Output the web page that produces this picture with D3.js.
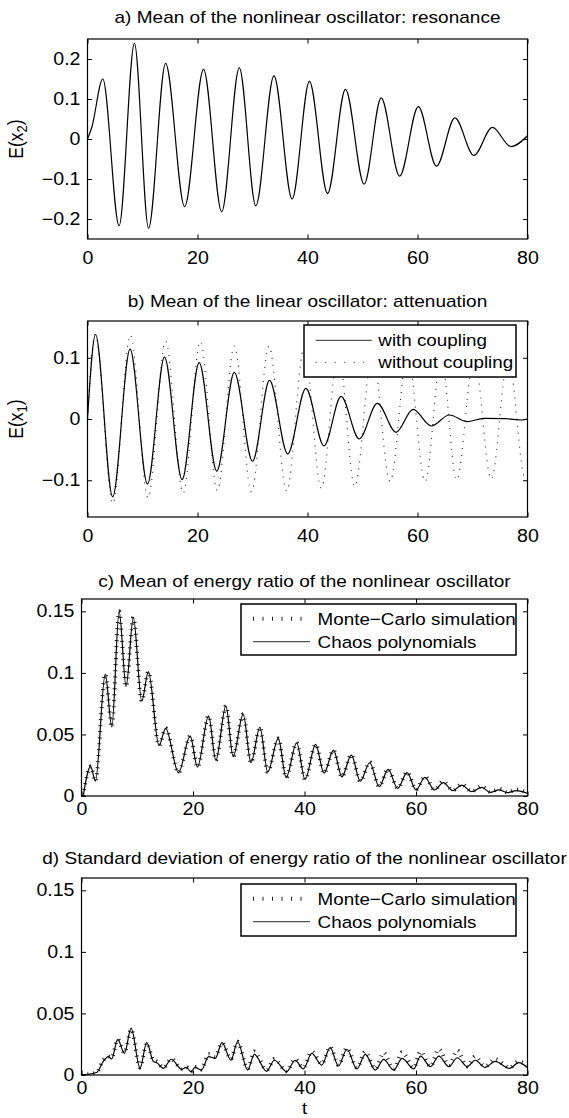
<!DOCTYPE html>
<html>
<head>
<meta charset="utf-8">
<script src="https://cdn.jsdelivr.net/npm/d3@7"></script>
<style>
  body { margin: 0; background: #fff; }
  svg { display: block; }
  text { font-family: "Liberation Sans", Arial, Helvetica, sans-serif; fill: #000; }
</style>
</head>
<body>
<div id="chart"></div>
<script>
// ---- data (t = time, values at the turning points) ----
var xTicks = [0, 20, 40, 60, 80];

// a) mean of x2, nonlinear oscillator
var tX2 = [0, 0.8, 2.78, 5.75, 8.53, 11.1, 14.2, 17.66, 21.1, 24.4, 27.6, 30.6, 33.9, 37.2, 40.35, 43.65, 46.9, 50.3, 53.4, 56.75, 60.15, 63.45, 66.8, 70.25, 73.6, 77.0, 80];
var meanX2 = [0, 0.03, 0.15, -0.217, 0.239, -0.223, 0.189, -0.169, 0.174, -0.182, 0.178, -0.167, 0.158, -0.15, 0.144, -0.136, 0.124, -0.113, 0.103, -0.093, 0.081, -0.068, 0.053, -0.041, 0.029, -0.019, 0.008];
var ticksA = [-0.2, -0.1, 0, 0.1, 0.2];

// b) mean of x1, linear oscillator, with / without coupling
var tX1c = [0, 1.46, 4.57, 7.74, 10.9, 14.0, 17.2, 20.3, 23.5, 26.7, 30.0, 33.1, 36.4, 39.7, 43.0, 46.1, 49.4, 52.7, 56.1, 59.2, 62.5, 65.8, 69.0, 72.1, 76, 79, 80];
var meanX1c = [0, 0.138, -0.127, 0.114, -0.106, 0.101, -0.099, 0.092, -0.085, 0.076, -0.069, 0.063, -0.057, 0.05, -0.044, 0.037, -0.0325, 0.0255, -0.0217, 0.0157, -0.0114, 0.0065, -0.0043, 0.001, 0.0005, -0.0016, 0];
var tX1u = [0, 1.4, 4.6, 7.8, 11.0, 14.2, 17.4, 20.5, 23.6, 26.7, 29.8, 33.0, 36.2, 39.4, 42.5, 45.6, 48.6, 51.8, 55.0, 58.2, 61.4, 64.3, 67.1, 70.3, 73.4, 76.5, 79.6, 80];
var meanX1u = [0, 0.138, -0.138, 0.137, -0.129, 0.127, -0.121, 0.126, -0.117, 0.119, -0.119, 0.119, -0.118, 0.116, -0.113, 0.11, -0.11, 0.107, -0.102, 0.104, -0.102, 0.101, -0.099, 0.1, -0.098, 0.099, -0.097, -0.095];
var ticksB = [-0.1, 0, 0.1];

// c) mean of energy ratio
var tEc = [0.3, 1.64, 2.5, 4.26, 5.44, 6.75, 8.0, 9.3, 10.8, 12.0, 13.9, 15.1, 17.4, 19.5, 20.8, 22.8, 24.1, 25.9, 27.2, 29.0, 30.4, 32.0, 33.4, 35.3, 36.7, 38.6, 40.1, 42.0, 43.5, 45.2, 46.7, 48.4, 50.0, 51.7, 53.4, 55.0, 56.7, 58.4, 60.0, 61.6, 63.3, 64.9, 66.6, 68.2, 70.0, 71.8, 73.3, 74.9, 76.4, 78.0, 80];
var meanEPC = [0, 0.024, 0.012, 0.099, 0.056, 0.150, 0.089, 0.145, 0.077, 0.101, 0.041, 0.055, 0.019, 0.0486, 0.0235, 0.065, 0.029, 0.0732, 0.032, 0.0665, 0.027, 0.0557, 0.0195, 0.0468, 0.015, 0.0432, 0.0135, 0.0419, 0.0185, 0.0373, 0.0155, 0.0332, 0.012, 0.027, 0.0076, 0.0216, 0.0062, 0.019, 0.0049, 0.0151, 0.0049, 0.0108, 0.0043, 0.0089, 0.0035, 0.007, 0.003, 0.005, 0.0027, 0.0043, 0.002];
var meanEMC = [0, 0.024, 0.012, 0.099, 0.056, 0.150, 0.089, 0.145, 0.077, 0.101, 0.041, 0.055, 0.019, 0.0486, 0.0235, 0.065, 0.029, 0.0732, 0.032, 0.0665, 0.027, 0.0557, 0.0195, 0.0468, 0.015, 0.0432, 0.0135, 0.0419, 0.0185, 0.0373, 0.0155, 0.0335, 0.012, 0.0275, 0.0078, 0.022, 0.0064, 0.0195, 0.0052, 0.016, 0.0052, 0.012, 0.0046, 0.0095, 0.0038, 0.008, 0.0034, 0.0058, 0.003, 0.0052, 0.0028];
var ticksC = [0, 0.05, 0.1, 0.15];

// d) standard deviation of energy ratio
var tSd = [0, 2.7, 3.9, 4.8, 5.4, 6.5, 7.7, 8.9, 10.5, 11.7, 12.9, 13.5, 14.7, 16.1, 18.0, 18.8, 19.6, 20.4, 21.5, 22.8, 24.0, 25.2, 26.8, 28.0, 29.8, 31.0, 33.2, 34.6, 36.8, 38.3, 39.8, 41.3, 43.1, 44.6, 46.1, 47.6, 49.4, 50.9, 52.7, 54.2, 56.0, 57.5, 59.6, 60.8, 62.6, 64.1, 65.9, 67.4, 69.2, 70.6, 72.4, 74.2, 76.8, 78.4, 80];
var stdEPC = [0, 0.002, 0.011, 0.015, 0.013, 0.029, 0.0176, 0.038, 0.0054, 0.0263, 0.011, 0.01, 0.0054, 0.0128, 0.0046, 0.0062, 0.0027, 0.0062, 0.004, 0.0149, 0.0135, 0.0263, 0.012, 0.027, 0.004, 0.0168, 0.003, 0.012, 0.0027, 0.012, 0.0049, 0.0176, 0.0081, 0.0222, 0.0073, 0.0209, 0.0049, 0.0168, 0.004, 0.0127, 0.004, 0.0135, 0.0049, 0.0154, 0.0068, 0.0154, 0.0068, 0.014, 0.0068, 0.012, 0.0062, 0.011, 0.0054, 0.01, 0.006];
var stdEMC = [0, 0.002, 0.012, 0.015, 0.014, 0.029, 0.018, 0.037, 0.006, 0.026, 0.012, 0.011, 0.006, 0.013, 0.005, 0.0065, 0.003, 0.0065, 0.0045, 0.017, 0.015, 0.026, 0.013, 0.027, 0.005, 0.019, 0.004, 0.013, 0.003, 0.013, 0.006, 0.019, 0.009, 0.023, 0.008, 0.022, 0.006, 0.019, 0.005, 0.018, 0.005, 0.0185, 0.006, 0.019, 0.007, 0.021, 0.008, 0.02, 0.007, 0.015, 0.007, 0.013, 0.006, 0.011, 0.007];
var ticksD = [0, 0.05, 0.1, 0.15];

// ---- drawing ----
var W = 569, H = 1118, FS = 16.8, TFS = 17.5, SX = 1.12, RIGHT = 527.5;

var svg = d3.select("#chart").append("svg")
    .attr("width", W)
    .attr("height", H);

function fmt(d) {
  if (d === 0) return "0";
  return (d < 0 ? "\u2212" : "") + String(Math.abs(d));
}

function label(g, x, y, s, anchor) {
  return g.append("text")
    .attr("transform", "translate(" + x + "," + y + ") scale(" + SX + ",1)")
    .attr("text-anchor", anchor || "middle")
    .style("font-size", FS + "px")
    .text(s);
}

function pts(ts, vs) {
  return ts.map(function(t, i) { return [t, vs[i]]; });
}

function panel(o) {
  var x = d3.scaleLinear().domain([0, 80]).range([o.left, RIGHT]);
  var y = d3.scaleLinear().domain(o.yDomain).range([o.bottom, o.top]);
  var g = svg.append("g");

  var line = d3.line()
      .x(function(d) { return x(d[0]); })
      .y(function(d) { return y(d[1]); })
      .curve(d3.curveMonotoneX);

  var clipId = "clip" + o.id;
  g.append("clipPath").attr("id", clipId)
    .append("rect")
      .attr("x", o.left).attr("y", o.top)
      .attr("width", RIGHT - o.left).attr("height", o.bottom - o.top);

  var plot = g.append("g").attr("clip-path", "url(#" + clipId + ")");
  o.series.forEach(function(s) {
    plot.append("path")
      .datum(pts(s.t, s.v))
      .attr("fill", "none")
      .attr("stroke", s.color)
      .attr("stroke-width", s.width)
      .attr("stroke-dasharray", s.dash || null)
      .attr("d", line);
  });

  // axes, ticks pointing inward on all four sides
  var bottom = g.append("g")
      .attr("transform", "translate(0," + o.bottom + ")")
      .call(d3.axisBottom(x).tickValues(xTicks).tickSizeInner(-4.5).tickSizeOuter(0).tickPadding(o.xPad).tickFormat(fmt));
  var left = g.append("g")
      .attr("transform", "translate(" + o.left + ",0)")
      .call(d3.axisLeft(y).tickValues(o.yTicks).tickSizeInner(-4.5).tickSizeOuter(0).tickPadding(7).tickFormat(fmt));
  g.append("g")
      .attr("transform", "translate(0," + o.top + ")")
      .call(d3.axisTop(x).tickValues(xTicks).tickSizeInner(-4.5).tickSizeOuter(0).tickFormat(""));
  g.append("g")
      .attr("transform", "translate(" + RIGHT + ",0)")
      .call(d3.axisRight(y).tickValues(o.yTicks).tickSizeInner(-4.5).tickSizeOuter(0).tickFormat(""));

  g.selectAll(".domain").remove();
  g.selectAll(".tick line").attr("stroke", "#000").attr("stroke-width", 1);
  bottom.selectAll("text")
    .attr("font-family", null).attr("font-size", null)
    .style("font-size", TFS + "px")
    .attr("transform", "scale(" + SX + ",1)");
  left.selectAll("text")
    .attr("font-family", null).attr("font-size", null)
    .style("font-size", TFS + "px")
    .attr("x", -7 / SX)
    .attr("transform", "scale(" + SX + ",1)");

  g.append("rect")
    .attr("x", o.left).attr("y", o.top)
    .attr("width", RIGHT - o.left).attr("height", o.bottom - o.top)
    .attr("fill", "none").attr("stroke", "#000").attr("stroke-width", 1.2);

  label(g, (o.left + RIGHT) / 2, o.titleY, o.title).style("font-size", "17px");

  if (o.sub) {
    var yl = g.append("text")
      .attr("transform", "translate(23," + (o.top + o.bottom) / 2 + ") rotate(-90) scale(1," + SX + ")")
      .attr("text-anchor", "middle")
      .style("font-size", TFS + "px");
    yl.append("tspan").text("E(x");
    yl.append("tspan").attr("dy", "0.3em").style("font-size", "0.75em").text(o.sub);
    yl.append("tspan").attr("dy", "-0.3em").text(")");
  }

  if (o.legend) {
    var L = o.legend;
    g.append("rect")
      .attr("x", L.x).attr("y", L.y).attr("width", L.w).attr("height", L.h)
      .attr("fill", "#fff").attr("stroke", "#000").attr("stroke-width", 1.5);
    L.items.forEach(function(it, i) {
      var ry = L.y + L.rows[i];
      g.append("line")
        .attr("x1", L.x + L.s0).attr("x2", L.x + L.s1)
        .attr("y1", ry).attr("y2", ry)
        .attr("stroke", it.color).attr("stroke-width", it.width)
        .attr("stroke-dasharray", it.dash || null);
      label(g, L.x + L.tx, ry + 6, it.text, "start");
    });
  }
}

panel({
  id: "a", left: 87.5, top: 39, bottom: 239, yDomain: [-0.25, 0.25], yTicks: ticksA,
  xPad: 13, titleY: 23, sub: "2",
  title: "a) Mean of the nonlinear oscillator: resonance",
  series: [{ t: tX2, v: meanX2, color: "#000", width: 1.2 }]
});

panel({
  id: "b", left: 87.5, top: 321, bottom: 517, yDomain: [-0.16, 0.16], yTicks: ticksB,
  xPad: 13, titleY: 306.5, sub: "1",
  title: "b) Mean of the linear oscillator: attenuation",
  series: [
    { t: tX1u, v: meanX1u, color: "#333", width: 1.2, dash: "1,6" },
    { t: tX1c, v: meanX1c, color: "#000", width: 1.2 }
  ],
  legend: { x: 304, y: 325, w: 212, h: 52, rows: [15.3, 37.3], s0: 11.7, s1: 67.7, tx: 74.3,
    items: [
      { text: "with coupling", color: "#555", width: 1.2 },
      { text: "without coupling", color: "#555", width: 1.2, dash: "1,8.5" }
    ] }
});

panel({
  id: "c", left: 81.5, top: 599, bottom: 796, yDomain: [0, 0.16], yTicks: ticksC,
  xPad: 7, titleY: 586.5,
  title: "c) Mean of energy ratio of the nonlinear oscillator",
  series: [
    { t: tEc, v: meanEMC, color: "#222", width: 4, dash: "1,5" },
    { t: tEc, v: meanEPC, color: "#000", width: 1.2 }
  ],
  legend: { x: 241, y: 604, w: 275, h: 51, rows: [14.7, 37.7], s0: 12, s1: 69, tx: 76.6,
    items: [
      { text: "Monte\u2212Carlo simulation", color: "#222", width: 4, dash: "1,8.5" },
      { text: "Chaos polynomials", color: "#555", width: 1.2 }
    ] }
});

panel({
  id: "d", left: 81.5, top: 878, bottom: 1075, yDomain: [0, 0.16], yTicks: ticksD,
  xPad: 7, titleY: 864,
  title: "d) Standard deviation of energy ratio of the nonlinear oscillator",
  series: [
    { t: tSd, v: stdEMC, color: "#222", width: 4, dash: "1,5" },
    { t: tSd, v: stdEPC, color: "#000", width: 1.2 }
  ],
  legend: { x: 241, y: 884, w: 275, h: 52, rows: [14.7, 37.7], s0: 12, s1: 69, tx: 76.6,
    items: [
      { text: "Monte\u2212Carlo simulation", color: "#222", width: 4, dash: "1,8.5" },
      { text: "Chaos polynomials", color: "#555", width: 1.2 }
    ] }
});

label(svg, (81.5 + RIGHT) / 2, 1114, "t").style("font-size", "16.5px");
</script>
</body>
</html>
